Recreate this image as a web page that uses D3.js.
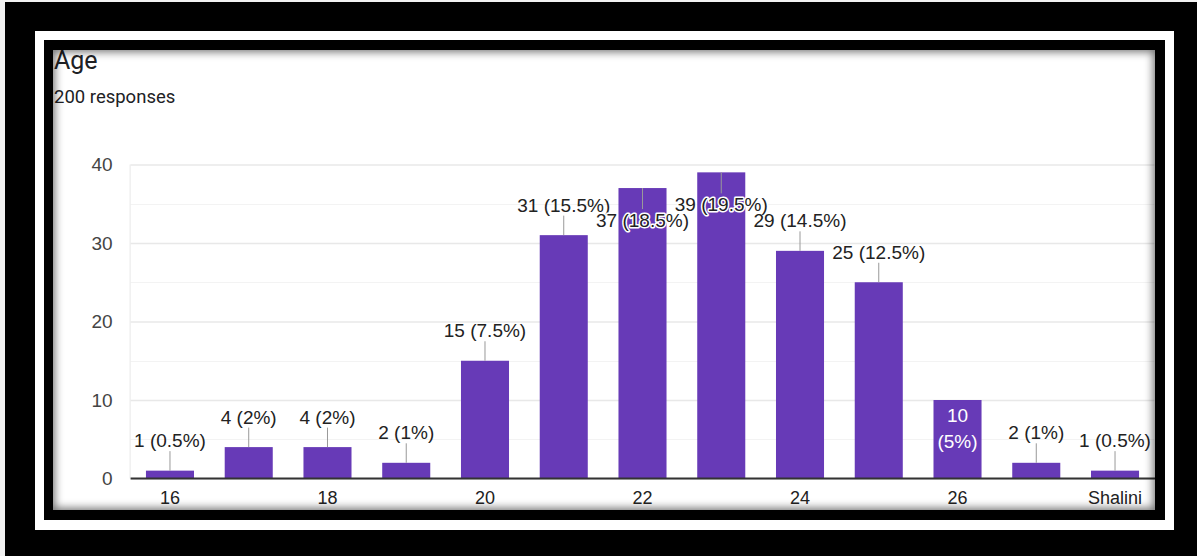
<!DOCTYPE html>
<html>
<head>
<meta charset="utf-8">
<script src="https://cdn.jsdelivr.net/npm/d3@7"></script>
<style>
  html, body { margin: 0; padding: 0; }
  body { width: 1197px; height: 556px; background: #f2f2f2; position: relative; overflow: hidden; }
  .abs { position: absolute; }
  #outer { left: 5px; top: 2px; width: 1192px; height: 554px; background: #000; }
  #band { left: 35px; top: 31px; width: 1139px; height: 499px; background: #fff; }
  #innerBlack { left: 44px; top: 40px; width: 1121px; height: 480px; background: #000; }
  #content { left: 53px; top: 50px; width: 1102px; height: 460px; background: #fff; overflow: hidden; }
  #shade { left: 53px; top: 50px; width: 1102px; height: 460px; box-shadow: inset 0 0 9px 2px rgba(0,0,0,0.55); pointer-events: none; }
</style>
</head>
<body>
<div id="outer" class="abs"></div>
<div id="band" class="abs"></div>
<div id="innerBlack" class="abs"></div>
<div id="content" class="abs"></div>
<div id="shade" class="abs"></div>
<script>
// ---- data ----
const title = "Age";
const subtitle = "200 responses";
const categories = ["16", "17", "18", "19", "20", "21", "22", "23", "24", "25", "26", "27", "Shalini"];
const counts = [1, 4, 4, 2, 15, 31, 37, 39, 29, 25, 10, 2, 1];
const percents = ["0.5%", "2%", "2%", "1%", "7.5%", "15.5%", "18.5%", "19.5%", "14.5%", "12.5%", "5%", "1%", "0.5%"];
const labelPlacement = ["above", "above", "above", "above", "above", "above", "inside", "inside", "above", "above", "within", "above", "above"];
const xTickLabels = ["16", "18", "20", "22", "24", "26", "Shalini"];
const yTicks = [0, 10, 20, 30, 40];
const yMinorTicks = [5, 15, 25, 35];

// ---- layout (page coords) ----
const offX = 53, offY = 50;
const plotLeft = 130.6, plotRight = 1154.4, plotTop = 164.5, plotBottom = 478.5;

const svg = d3.select("#content").append("svg")
  .attr("width", 1102).attr("height", 460);
const g = svg.append("g").attr("transform", `translate(${-offX},${-offY})`);

const x = d3.scaleBand().domain(categories).range([plotLeft, plotRight]).paddingInner(0.39).paddingOuter(0.195);
const y = d3.scaleLinear().domain([0, 40]).range([plotBottom, plotTop]);

// title
g.append("text").attr("x", 54).attr("y", 69).text(title)
  .attr("font-family", "Roboto, sans-serif").attr("font-size", 25).attr("fill", "#202124");
g.append("text").attr("x", 54).attr("y", 102.5).text(subtitle)
  .attr("font-family", "Roboto, sans-serif").attr("font-size", 18.5).attr("fill", "#202124");

// minor grid
g.append("g").selectAll("line").data(yMinorTicks).join("line")
  .attr("x1", plotLeft).attr("x2", plotRight)
  .attr("y1", d => Math.round(y(d)) + 0.5).attr("y2", d => Math.round(y(d)) + 0.5)
  .attr("stroke", "#f3f3f3").attr("stroke-width", 1);

// major grid via axis
const yAxis = d3.axisLeft(y).tickValues(yTicks).tickSize(-(plotRight - plotLeft)).tickPadding(18);
const ya = g.append("g").attr("transform", `translate(${plotLeft},0)`).call(yAxis);
ya.select(".domain").remove();
ya.selectAll(".tick line").attr("stroke", "#e8e8e8").attr("stroke-width", 1.3);
ya.selectAll(".tick text").attr("font-family", "'Liberation Sans', Arial, sans-serif")
  .attr("font-size", 19).attr("fill", "#444");

// left vertical light line
g.append("line").attr("x1", plotLeft - 0.5).attr("x2", plotLeft - 0.5)
  .attr("y1", y(40)).attr("y2", y(0)).attr("stroke", "#e8e8e8");

// bars
g.append("g").selectAll("rect").data(categories).join("rect")
  .attr("x", d => x(d)).attr("width", x.bandwidth())
  .attr("y", (d, i) => y(counts[i])).attr("height", (d, i) => y(0) - y(counts[i]))
  .attr("fill", "#673ab7");

// baseline axis
const xAxis = d3.axisBottom(x).tickValues(xTickLabels).tickSize(0).tickPadding(13);
const xa = g.append("g").attr("transform", `translate(0,${y(0)})`).call(xAxis);
xa.select(".domain").attr("stroke", "#333").attr("stroke-width", 2)
  .attr("d", `M${plotLeft},0H${plotRight + 5}`);
xa.selectAll(".tick text").attr("font-family", "'Liberation Sans', Arial, sans-serif")
  .attr("font-size", 18).attr("fill", "#222");

// annotations
const ann = g.append("g").attr("font-family", "'Liberation Sans', Arial, sans-serif").attr("font-size", 19)
  .attr("text-anchor", "middle");
categories.forEach((c, i) => {
  const cx = x(c) + x.bandwidth() / 2;
  const top = y(counts[i]);
  const mode = labelPlacement[i];
  const label = `${counts[i]} (${percents[i]})`;
  if (mode === "above") {
    ann.append("line").attr("x1", cx).attr("x2", cx).attr("y1", top - 19.5).attr("y2", top)
      .attr("stroke", "#999").attr("stroke-width", 1);
    ann.append("text").attr("x", cx).attr("y", top - 23.5).attr("fill", "#222").text(label);
  } else if (mode === "inside") {
    ann.append("line").attr("x1", cx).attr("x2", cx).attr("y1", top).attr("y2", top + 21)
      .attr("stroke", "#999").attr("stroke-width", 1);
    ann.append("text").attr("x", cx).attr("y", top + 39).attr("fill", "#222")
      .attr("stroke", "#fff").attr("stroke-width", 3).attr("paint-order", "stroke")
      .attr("stroke-linejoin", "round").text(label);
  } else {
    ann.append("text").attr("x", cx).attr("y", top + 21.5).attr("fill", "#fff").text(String(counts[i]));
    ann.append("text").attr("x", cx).attr("y", top + 47.5).attr("fill", "#fff").text(`(${percents[i]})`);
  }
});
</script>
</body>
</html>
